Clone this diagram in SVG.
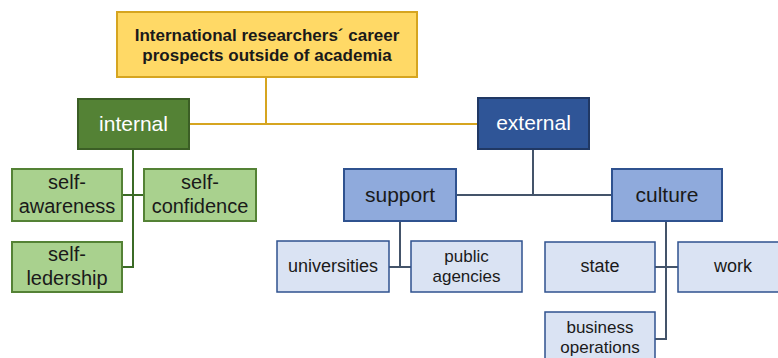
<svg xmlns="http://www.w3.org/2000/svg" width="778" height="358" viewBox="0 0 778 358">
<style>
text{font-family:"Liberation Sans",Arial,sans-serif;text-anchor:middle;dominant-baseline:central}
.top rect{fill:#FFD966;stroke:#D6A520;stroke-width:2}
.top text{font-weight:bold;font-size:17px;fill:#1a1a1a}
.g1 rect{fill:#548235;stroke:#3B5E25;stroke-width:2}
.g1 text{font-size:21px;fill:#ffffff}
.g2 rect{fill:#A9D18E;stroke:#548235;stroke-width:2}
.g2 text{font-size:20px;fill:#1a1a1a}
.b1 rect{fill:#2F5597;stroke:#203864;stroke-width:2}
.b1 text{font-size:21px;fill:#ffffff}
.b2 rect{fill:#8FAADC;stroke:#2F528F;stroke-width:2}
.b2 text{font-size:21px;fill:#1a1a1a}
.b3 rect{fill:#DAE3F3;stroke:#2F528F;stroke-width:1.5}
.b3 text{font-size:17px;fill:#1a1a1a}
.b3 .one{font-size:18px}
.cy{stroke:#D6A520;stroke-width:2;fill:none}
.cg{stroke:#3B6B26;stroke-width:2;fill:none}
.cb{stroke:#44546A;stroke-width:2;fill:none}
</style>
<g id="connectors">
<path class="cy" d="M266 77V124M189 124H478"/>
<path class="cg" d="M133 149V267H122M122 195H144"/>
<path class="cb" d="M533 149V195M455 195H612"/>
<path class="cb" d="M400 221V267M389 267H411"/>
<path class="cb" d="M666 221V339H655M655 267H678"/>
</g>
<g id="root" class="top"><rect x="117" y="12" width="300" height="65"/><text x="267" y="35">International researchers´ career</text><text x="267" y="55">prospects outside of academia</text></g>
<g id="internal" class="g1"><rect x="78" y="99" width="111" height="50"/><text x="133.5" y="123">internal</text></g>
<g id="external" class="b1"><rect x="478" y="98" width="111" height="51"/><text x="533.5" y="122.5">external</text></g>
<g id="self-awareness" class="g2"><rect x="12" y="169" width="110" height="52"/><text x="67" y="182">self-</text><text x="67" y="206">awareness</text></g>
<g id="self-confidence" class="g2"><rect x="144" y="169" width="112" height="52"/><text x="200" y="182">self-</text><text x="200" y="206">confidence</text></g>
<g id="self-ledership" class="g2"><rect x="12" y="242" width="110" height="50"/><text x="67" y="254">self-</text><text x="67" y="278">ledership</text></g>
<g id="support" class="b2"><rect x="344" y="169" width="112" height="52"/><text x="400" y="194">support</text></g>
<g id="culture" class="b2"><rect x="612" y="169" width="110" height="52"/><text x="667" y="194">culture</text></g>
<g id="universities" class="b3"><rect x="277" y="241" width="112" height="51"/><text class="one" x="333" y="266">universities</text></g>
<g id="public-agencies" class="b3"><rect x="411" y="241" width="111" height="51"/><text x="466.5" y="256">public</text><text x="466.5" y="276">agencies</text></g>
<g id="state" class="b3"><rect x="545" y="242" width="110" height="50"/><text class="one" x="600" y="266">state</text></g>
<g id="work" class="b3"><rect x="678" y="242" width="111" height="50"/><text class="one" x="733" y="266">work</text></g>
<g id="business-operations" class="b3"><rect x="545" y="312" width="110" height="52"/><text x="600" y="327">business</text><text x="600" y="347">operations</text></g>
</svg>
